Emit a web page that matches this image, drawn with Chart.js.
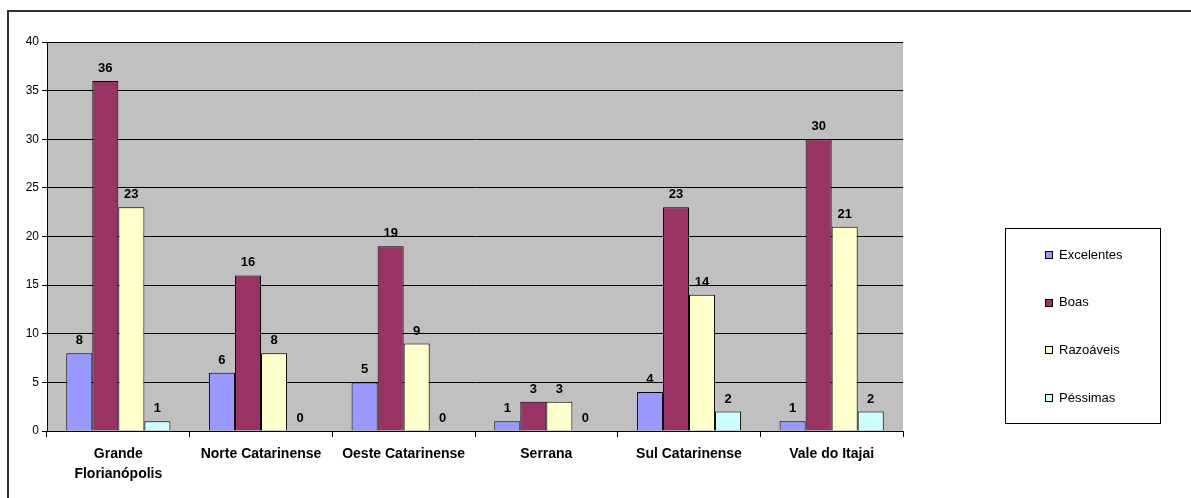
<!DOCTYPE html>
<html>
<head>
<meta charset="utf-8">
<script src="https://cdn.jsdelivr.net/npm/chart.js@4"></script>
<style>
  html, body { margin: 0; padding: 0; background: #fff; }
  #wrap { position: relative; width: 1191px; height: 498px; overflow: hidden; }
  #frame { position: absolute; left: 7px; top: 10px; width: 1200px; height: 500px;
           border-left: 2px solid #333; border-top: 2px solid #333; box-sizing: border-box; }
  canvas { position: absolute; left: 0; top: 0; }
</style>
</head>
<body>
<div id="wrap">
  <div id="frame"></div>
  <canvas id="chart" width="1191" height="498"></canvas>
</div>
<script>
// ==================== DATA ====================
const regions = [['Grande', 'Florianópolis'], 'Norte Catarinense', 'Oeste Catarinense', 'Serrana', 'Sul Catarinense', 'Vale do Itajai'];
const excelentes = [8, 6, 5, 1, 4, 1];
const boas = [36, 16, 19, 3, 23, 30];
const razoaveis = [23, 8, 9, 3, 14, 21];
const pessimas = [1, 0, 0, 0, 2, 2];
const yTicks = [0, 5, 10, 15, 20, 25, 30, 35, 40];

const FONT = '"Liberation Sans", Arial, sans-serif';

// plot background (Excel grey)
const plotBg = {
  id: 'plotBg',
  beforeDraw(chart) {
    const { ctx, chartArea: a } = chart;
    ctx.save();
    ctx.fillStyle = '#c0c0c0';
    ctx.fillRect(a.left, a.top, a.right - a.left, a.bottom - a.top);
    ctx.restore();
  },
};

// value labels above each bar
const valueLabels = {
  id: 'valueLabels',
  afterDatasetsDraw(chart) {
    const ctx = chart.ctx;
    ctx.save();
    ctx.font = 'bold 13px ' + FONT;
    ctx.fillStyle = '#000';
    ctx.textAlign = 'center';
    ctx.textBaseline = 'bottom';
    chart.data.datasets.forEach((ds, i) => {
      chart.getDatasetMeta(i).data.forEach((bar, j) => {
        ctx.fillText(String(ds.data[j]), bar.x, bar.y - 6);
      });
    });
    ctx.restore();
  },
};

// boxed legend on the right
const boxLegend = {
  id: 'boxLegend',
  afterDraw(chart) {
    const ctx = chart.ctx;
    const box = { x: 1005.5, y: 228.5, w: 155, h: 195 };
    ctx.save();
    ctx.fillStyle = '#fff';
    ctx.strokeStyle = '#000';
    ctx.lineWidth = 1;
    ctx.fillRect(box.x, box.y, box.w, box.h);
    ctx.strokeRect(box.x, box.y, box.w, box.h);
    ctx.font = '13px ' + FONT;
    ctx.textBaseline = 'middle';
    ctx.textAlign = 'left';
    chart.data.datasets.forEach((ds, i) => {
      const cy = 255 + i * 47.7;
      ctx.fillStyle = ds.backgroundColor;
      ctx.fillRect(1045.5, Math.round(cy) - 3.5, 7, 7);
      ctx.strokeStyle = '#000';
      ctx.strokeRect(1045.5, Math.round(cy) - 3.5, 7, 7);
      ctx.fillStyle = '#000';
      ctx.fillText(ds.label, 1059, cy);
    });
    ctx.restore();
  },
};

const barStyle = { borderColor: '#000', borderWidth: 1, borderSkipped: 'bottom', categoryPercentage: 0.73, barPercentage: 1 };

new Chart(document.getElementById('chart').getContext('2d'), {
  type: 'bar',
  data: {
    labels: regions,
    datasets: [
      { label: 'Excelentes', data: excelentes, backgroundColor: '#9999ff', ...barStyle },
      { label: 'Boas', data: boas, backgroundColor: '#993366', ...barStyle },
      { label: 'Razoáveis', data: razoaveis, backgroundColor: '#ffffcc', ...barStyle },
      { label: 'Péssimas', data: pessimas, backgroundColor: '#ccffff', ...barStyle },
    ],
  },
  options: {
    responsive: false,
    animation: false,
    layout: { padding: { left: 0, top: 42, right: 288, bottom: 0 } },
    plugins: {
      legend: { display: false },
      tooltip: { enabled: false },
    },
    scales: {
      x: {
        grid: { drawOnChartArea: false, drawTicks: true, tickLength: 6, color: '#000', offset: true },
        border: { color: '#000', width: 1 },
        ticks: {
          color: '#000',
          padding: 7,
          font: { family: FONT, size: 14, weight: 'bold', lineHeight: 1.45 },
          maxRotation: 0,
          autoSkip: false,
        },
        afterFit: (s) => { s.height = 67; },
      },
      y: {
        min: yTicks[0],
        max: yTicks[yTicks.length - 1],
        afterBuildTicks: (s) => { s.ticks = yTicks.map((v) => ({ value: v })); },
        grid: { color: '#000', lineWidth: 1, tickLength: 5 },
        border: { color: '#000', width: 1 },
        ticks: {
          color: '#000',
          padding: 3,
          font: { family: FONT, size: 12 },
        },
        afterFit: (s) => { s.width = 47; },
      },
    },
  },
  plugins: [plotBg, valueLabels, boxLegend],
});
</script>
</body>
</html>
